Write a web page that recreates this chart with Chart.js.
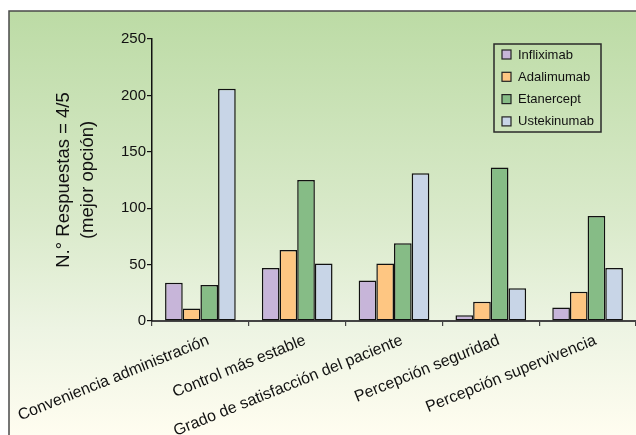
<!DOCTYPE html>
<html>
<head>
<meta charset="utf-8">
<script src="https://cdn.jsdelivr.net/npm/chart.js@4/dist/chart.umd.min.js"></script>
<style>
  html, body { margin: 0; padding: 0; background: #fff; overflow: hidden; }
  #wrap { width: 636px; height: 435px; position: relative; }
</style>
</head>
<body>
<div id="wrap"><canvas id="c" width="636" height="435"></canvas></div>
<script>
// Categories and series (number of 4/5 answers per drug)
const categories = [
  'Conveniencia administración',
  'Control más estable',
  'Grado de satisfacción del paciente',
  'Percepción seguridad',
  'Percepción supervivencia'
];
const infliximab  = [34, 47, 36, 5, 12];
const adalimumab  = [11, 63, 51, 17, 26];
const etanercept  = [32, 125, 69, 136, 93];
const ustekinumab = [206, 51, 131, 29, 47];
const yTicks = [0, 50, 100, 150, 200, 250];
const yTitle = ['N.° Respuestas = 4/5', '(mejor opción)'];

const FONT = '"Liberation Sans", Arial, Helvetica, sans-serif';

// Panel background with gradient and frame (left and top edges)
const panelBackground = {
  id: 'panelBackground',
  beforeDraw(chart) {
    const ctx = chart.ctx;
    const W = chart.width, H = chart.height;
    ctx.save();
    ctx.fillStyle = '#ffffff';
    ctx.fillRect(0, 0, W, H);
    const x0 = 9, y0 = 11;
    const g = ctx.createLinearGradient(0, y0, 0, H);
    g.addColorStop(0, '#BCDBA5');
    g.addColorStop(0.5, '#DAEACB');
    g.addColorStop(0.75, '#EDF4E3');
    g.addColorStop(1, '#FFFDF0');
    ctx.fillStyle = g;
    ctx.fillRect(x0, y0, W - x0 + 2, H - y0 + 2);
    ctx.strokeStyle = '#4a4a4a';
    ctx.lineWidth = 1.5;
    ctx.beginPath();
    ctx.moveTo(x0, H + 2);
    ctx.lineTo(x0, y0);
    ctx.lineTo(W + 2, y0);
    ctx.stroke();
    ctx.restore();
  }
};

// Boxed legend drawn inside the plot area
const boxLegend = {
  id: 'boxLegend',
  afterDraw(chart) {
    const ctx = chart.ctx;
    const bx = 494, by = 44, bw = 107, bh = 88;
    ctx.save();
    ctx.strokeStyle = '#2a2a2a';
    ctx.lineWidth = 1.5;
    ctx.strokeRect(bx, by, bw, bh);
    ctx.font = '13px ' + FONT;
    ctx.textBaseline = 'middle';
    ctx.textAlign = 'left';
    chart.data.datasets.forEach((ds, i) => {
      const cy = by + 10.5 + i * 22.3;
      ctx.fillStyle = ds.backgroundColor;
      ctx.fillRect(502, cy - 4.5, 9, 9);
      ctx.strokeStyle = '#222';
      ctx.lineWidth = 1.2;
      ctx.strokeRect(502, cy - 4.5, 9, 9);
      ctx.fillStyle = '#111';
      ctx.fillText(ds.label, 518, cy + 0.5);
    });
    ctx.restore();
  }
};

const barStyle = { borderColor: '#111', borderWidth: 1.5, borderSkipped: false };

new Chart(document.getElementById('c'), {
  type: 'bar',
  data: {
    labels: categories,
    datasets: [
      { label: 'Infliximab',  data: infliximab,  backgroundColor: '#C7B5D9', ...barStyle },
      { label: 'Adalimumab',  data: adalimumab,  backgroundColor: '#FEC682', ...barStyle },
      { label: 'Etanercept',  data: etanercept,  backgroundColor: '#86BC86', ...barStyle },
      { label: 'Ustekinumab', data: ustekinumab, backgroundColor: '#C8D5E7', ...barStyle }
    ]
  },
  options: {
    responsive: false,
    animation: false,
    devicePixelRatio: 1,
    layout: { padding: { left: 0, top: 39, right: 0, bottom: 0 } },
    datasets: { bar: { categoryPercentage: 0.73, barPercentage: 1 } },
    plugins: {
      legend: { display: false },
      tooltip: { enabled: false }
    },
    scales: {
      x: {
        offset: true,
        grid: { offset: true, drawOnChartArea: false, drawTicks: true, tickLength: 5, color: '#444', lineWidth: 1.2 },
        border: { display: true, color: '#444', width: 2 },
        ticks: {
          color: '#111',
          font: { family: FONT, size: 16 },
          minRotation: 22,
          maxRotation: 22,
          padding: 5,
          labelOffset: 8,
          autoSkip: false
        },
        afterFit(scale) {
          scale.height = 114;
          scale.paddingLeft = 0;
          scale.paddingRight = 0;
        }
      },
      y: {
        min: 0,
        max: 250,
        afterBuildTicks(scale) { scale.ticks = yTicks.map(v => ({ value: v })); },
        grid: { drawOnChartArea: false, drawTicks: true, tickLength: 5, color: '#111', lineWidth: 1.2 },
        border: { display: true, color: '#111', width: 1.5 },
        ticks: {
          color: '#111',
          font: { family: FONT, size: 15 },
          padding: 1
        },
        title: {
          display: true,
          text: yTitle,
          color: '#111',
          font: { family: FONT, size: 18.5, lineHeight: 1.3 },
          padding: { top: 52, bottom: 0 }
        },
        afterFit(scale) { scale.width = 152; }
      }
    }
  },
  plugins: [panelBackground, boxLegend]
});
</script>
</body>
</html>
